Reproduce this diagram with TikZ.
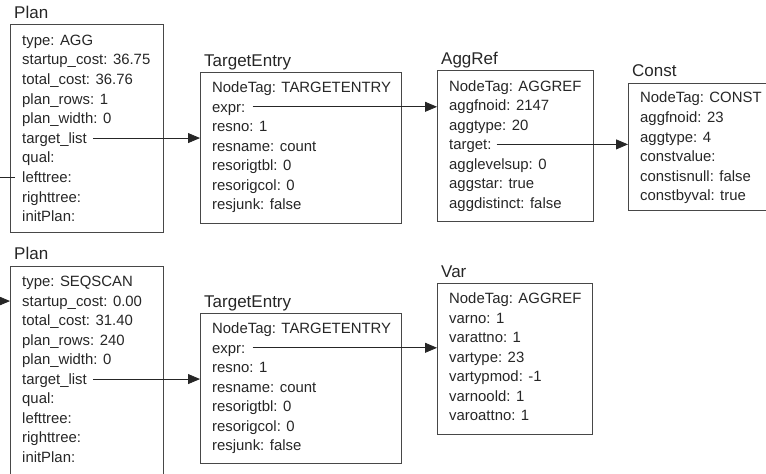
\documentclass[tikz,border=0pt]{standalone}
\usepackage{fontspec}
\setmainfont{Liberation Sans}
\usetikzlibrary{calc}
\usetikzlibrary{arrows.meta}
\usetikzlibrary{positioning}

\begin{document}
\begin{tikzpicture}[x=1pt, y=-1pt,
    box/.style={draw=black!72, line width=0.8pt, anchor=north west, inner sep=0pt},
    title/.style={anchor=base west, inner sep=0pt, text=black!85,
      font=\fontsize{17}{20}\selectfont},
    field/.style={anchor=base west, inner sep=0pt, text=black!85,
      text height=10.5pt, text depth=0pt, font=\fontsize{14.9}{17}\selectfont},
    link/.style={draw=black!85, line width=0.8pt, -{Triangle[length=12pt,width=10pt]}}
  ]
  \useasboundingbox (0,0) rectangle (766,474);
  \clip (0,0) rectangle (766,474);

  % upper chain
  \node[box, minimum width=153pt, minimum height=208pt] (plan1) at (10,24) {};
  \node[title] (plan1-t) at ($(plan1.north west)+(4,-6)$) {Plan};
  \foreach \txt [count=\i] in {type: AGG, startup\_cost: 36.75, total\_cost: 36.76,
      plan\_rows: 1, plan\_width: 0, target\_list, qual:, lefttree:, righttree:, initPlan:}
    \node[field] (plan1-\i) at ($(plan1.north west)+(12,{21.3+19.6*(\i-1)})$) {\txt};

  \node[box, minimum width=201pt, minimum height=151pt] (te1) at (200,72) {};
  \node[title] (te1-t) at ($(te1.north west)+(4,-6)$) {TargetEntry};
  \foreach \txt [count=\i] in {NodeTag: TARGETENTRY, expr:, resno: 1, resname: count,
      resorigtbl: 0, resorigcol: 0, resjunk: false}
    \node[field] (te1-\i) at ($(te1.north west)+(12,{20.5+19.55*(\i-1)})$) {\txt};

  \node[box, minimum width=156pt, minimum height=151pt] (aggref) at (437,70) {};
  \node[title] (aggref-t) at ($(aggref.north west)+(4,-6)$) {AggRef};
  \foreach \txt [count=\i] in {NodeTag: AGGREF, aggfnoid: 2147, aggtype: 20, target:,
      agglevelsup: 0, aggstar: true, aggdistinct: false}
    \node[field] (aggref-\i) at ($(aggref.north west)+(12,{21+19.55*(\i-1)})$) {\txt};

  \node[box, minimum width=150pt, minimum height=127pt] (const) at (628,83) {};
  \node[title] (const-t) at ($(const.north west)+(4,-7)$) {Const};
  \foreach \txt [count=\i] in {NodeTag: CONST, aggfnoid: 23, aggtype: 4, constvalue:,
      constisnull: false, constbyval: true}
    \node[field] (const-\i) at ($(const.north west)+(12,{19.8+19.6*(\i-1)})$) {\txt};

  % lower chain
  \node[box, minimum width=153pt, minimum height=215pt] (plan2) at (10,266) {};
  \node[title] (plan2-t) at ($(plan2.north west)+(4,-7)$) {Plan};
  \foreach \txt [count=\i] in {type: SEQSCAN, startup\_cost: 0.00, total\_cost: 31.40,
      plan\_rows: 240, plan\_width: 0, target\_list, qual:, lefttree:, righttree:, initPlan:}
    \node[field] (plan2-\i) at ($(plan2.north west)+(12,{20.8+19.5*(\i-1)})$) {\txt};

  \node[box, minimum width=201pt, minimum height=150pt] (te2) at (200,313) {};
  \node[title] (te2-t) at ($(te2.north west)+(4,-6)$) {TargetEntry};
  \foreach \txt [count=\i] in {NodeTag: TARGETENTRY, expr:, resno: 1, resname: count,
      resorigtbl: 0, resorigcol: 0, resjunk: false}
    \node[field] (te2-\i) at ($(te2.north west)+(12,{20.5+19.55*(\i-1)})$) {\txt};

  \node[box, minimum width=155pt, minimum height=151pt] (var) at (437,283) {};
  \node[title] (var-t) at ($(var.north west)+(4,-6)$) {Var};
  \foreach \txt [count=\i] in {NodeTag: AGGREF, varno: 1, varattno: 1, vartype: 23,
      vartypmod: -1, varnoold: 1, varoattno: 1}
    \node[field] (var-\i) at ($(var.north west)+(12,{20.5+19.55*(\i-1)})$) {\txt};

  % pointers
  \draw[link] ([xshift=6pt]plan1-6.east) -- (te1.west |- plan1-6.east);
  \draw[link] ([xshift=7pt]te1-2.east) -- (aggref.west |- te1-2.east);
  \draw[link] ([xshift=5pt]aggref-4.east) -- (const.west |- aggref-4.east);
  \draw[link] ([xshift=6pt]plan2-6.east) -- (te2.west |- plan2-6.east);
  \draw[link] ([xshift=7pt]te2-2.east) -- (var.west |- te2-2.east);

  \coordinate (loopturn) at ($(plan1.west |- plan1-8.east)+(-30,0)$);
  \draw[link] ([xshift=-7pt]plan1-8.west) -- (loopturn) |- (plan2.west |- plan2-2.east);
\end{tikzpicture}
\end{document}
